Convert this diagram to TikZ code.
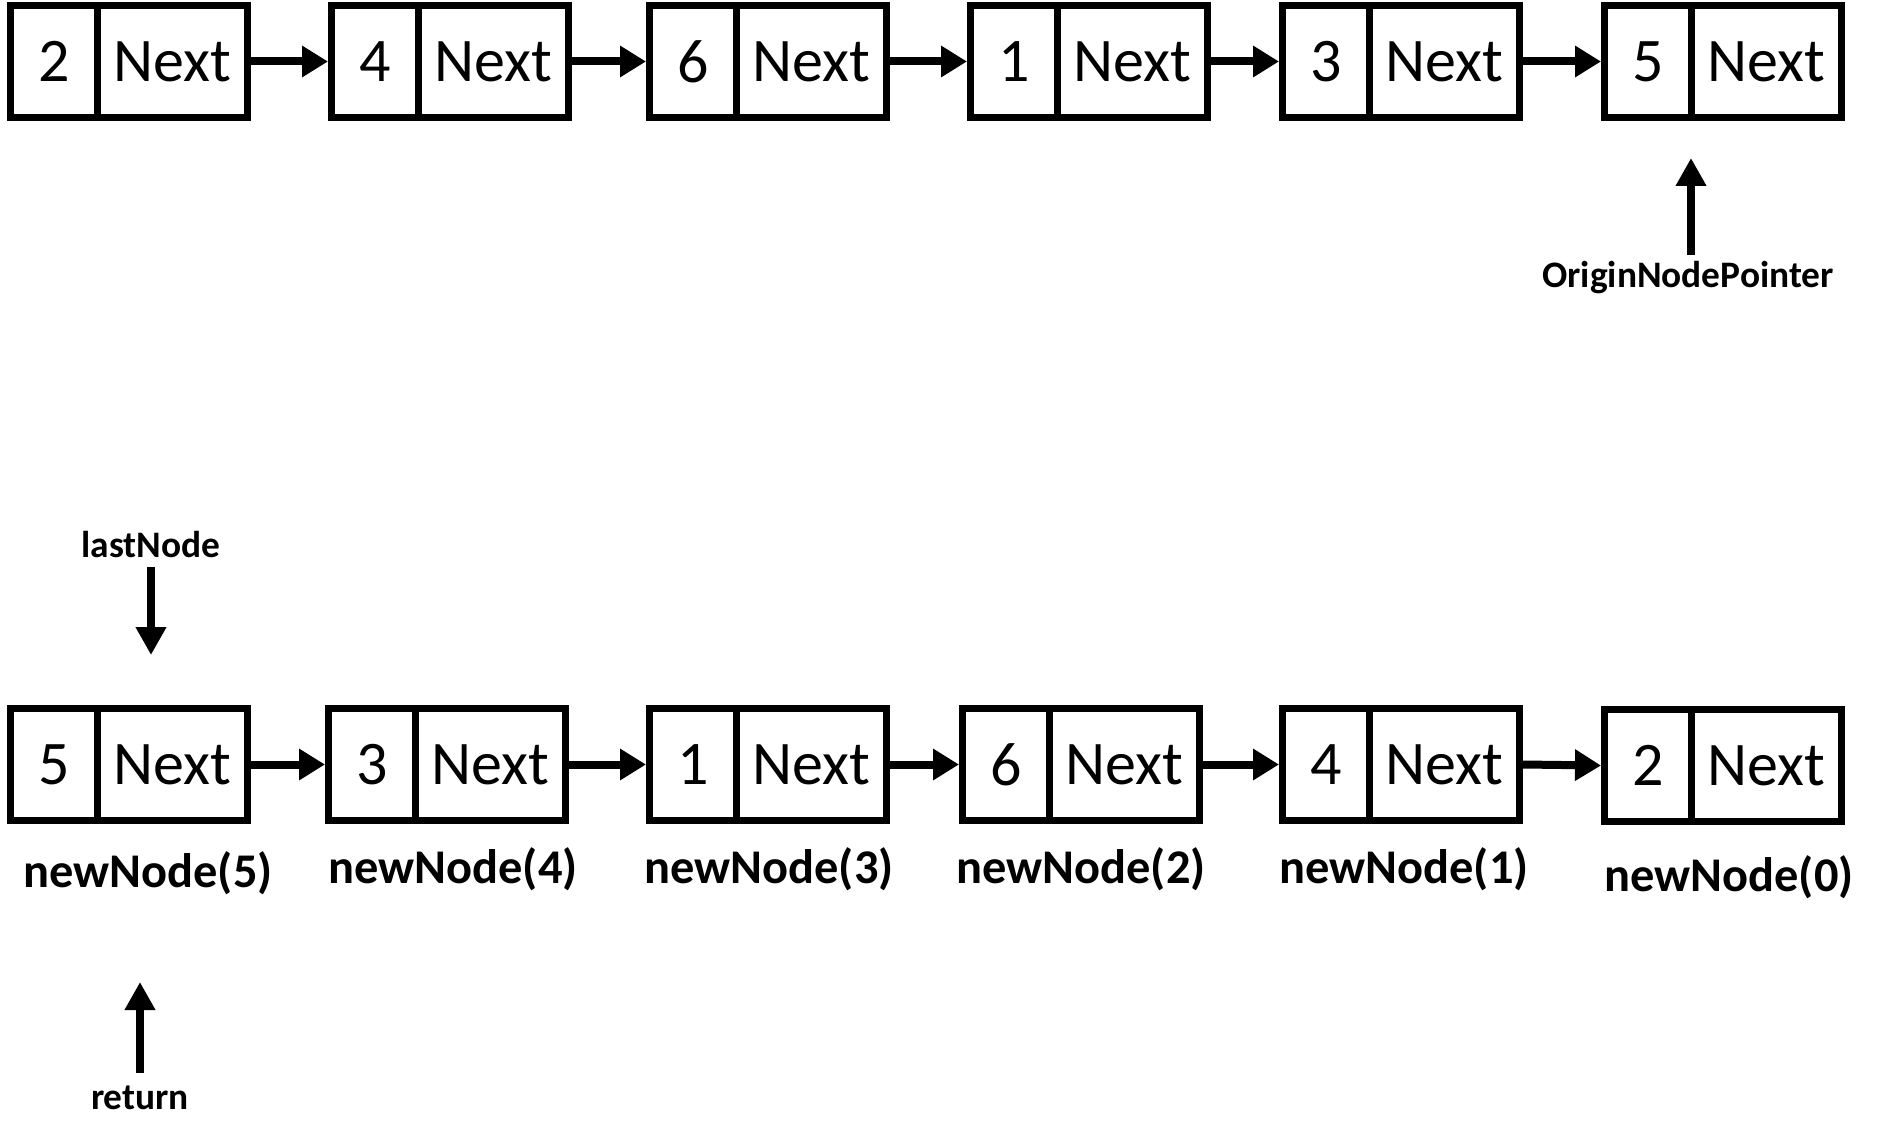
\documentclass[tikz,border=0pt]{standalone}
\usepackage{fontspec}
\setmainfont{Carlito}
\usetikzlibrary{arrows.meta}
\begin{document}
\begin{tikzpicture}[x=0.5pt,y=-0.5pt,
  cell/.style={draw, line width=3.5pt, minimum height=56pt, inner sep=0pt,
    font=\fontsize{31pt}{37pt}\selectfont},
  valcell/.style={cell, minimum width=43.5pt},
  nextcell/.style={cell, minimum width=75pt},
  link/.style={line width=4pt, -{Triangle[length=13pt,width=15pt]}},
  ptr/.style={line width=3.7pt, -{Triangle[length=14pt,width=14.5pt]}},
  lbl/.style={font=\bfseries\fontsize{24.2pt}{29pt}\selectfont, inner sep=0pt, anchor=base},
  smalllbl/.style={font=\bfseries\fontsize{18.7pt}{22pt}\selectfont, inner sep=0pt, anchor=base}]
\useasboundingbox (0,0) rectangle (1877,1139);
\newcommand\lnode[4]{%
  \node[valcell] (v#1) at (#2+47,#3) {#4};
  \node[nextcell] (n#1) at (#2+165.5,#3) {Next};}
% top row
\lnode{a1}{7}{61.5}{2}
\lnode{a2}{328}{61.5}{4}
\lnode{a3}{646}{61.5}{6}
\lnode{a4}{967}{61.5}{1}
\lnode{a5}{1279}{61.5}{3}
\lnode{a6}{1601}{61.5}{5}
\draw[link] (na1.east) -- (va2.west);
\draw[link] (na2.east) -- (va3.west);
\draw[link] (na3.east) -- (va4.west);
\draw[link] (na4.east) -- (va5.west);
\draw[link] (na5.east) -- (va6.west);
% bottom row
\lnode{b1}{7}{764.5}{5}
\lnode{b2}{325}{764.5}{3}
\lnode{b3}{646}{764.5}{1}
\lnode{b4}{959}{764.5}{6}
\lnode{b5}{1279}{764.5}{4}
\lnode{b6}{1601}{765.5}{2}
\draw[link] (nb1.east) -- (vb2.west);
\draw[link] (nb2.east) -- (vb3.west);
\draw[link] (nb3.east) -- (vb4.west);
\draw[link] (nb4.east) -- (vb5.west);
\draw[link] (nb5.east) -- (vb6.west);
% labels
\node[lbl] (l5) at (148,887) {newNode(5)};
\node[lbl] (l4) at (453,883) {newNode(4)};
\node[lbl] (l3) at (769,883) {newNode(3)};
\node[lbl] (l2) at (1081,883) {newNode(2)};
\node[lbl] (l1) at (1404,883) {newNode(1)};
\node[lbl] (l0) at (1729,891) {newNode(0)};
% pointers
\node[smalllbl] (op) at (1688,287) {OriginNodePointer};
\coordinate (opTail) at (1691,255);
\coordinate (opTip) at (1691,158);
\draw[ptr] (opTail) -- (opTip);
\node[smalllbl] (ln) at (151,557) {lastNode};
\coordinate (lnTail) at (151,567);
\coordinate (lnTip) at (151,655);
\draw[ptr] (lnTail) -- (lnTip);
\node[smalllbl] (rt) at (140,1109) {return};
\coordinate (rtTail) at (140,1073);
\coordinate (rtTip) at (140,982);
\draw[ptr] (rtTail) -- (rtTip);
\end{tikzpicture}
\end{document}
